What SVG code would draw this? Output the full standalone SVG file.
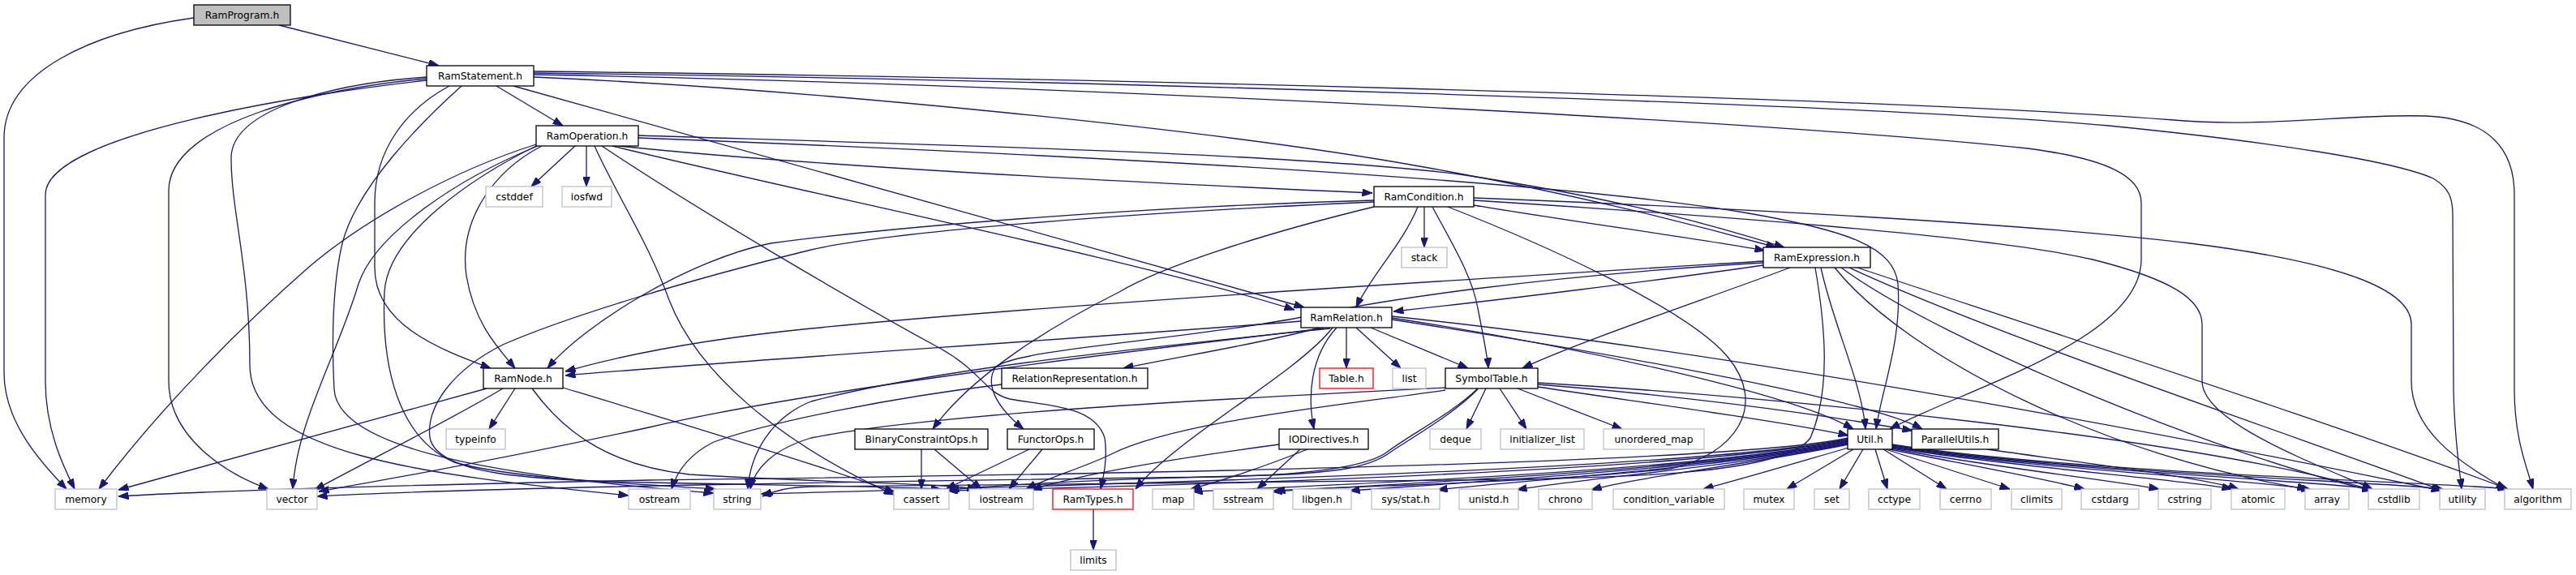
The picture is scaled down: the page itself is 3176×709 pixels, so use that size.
<svg xmlns="http://www.w3.org/2000/svg" width="3176" height="709" viewBox="0 0 3176 709">
<style>
.node rect{fill:#ffffff;stroke:#000000;stroke-width:1.3}
.sys rect{fill:#ffffff;stroke:#bfbfbf;stroke-width:1.3}
.red rect{fill:#ffffff;stroke:#ff0000;stroke-width:1.3}
.root rect{fill:#bfbfbf;stroke:#000000;stroke-width:1.3}
text{font-family:"DejaVu Sans","Liberation Sans",sans-serif;font-size:12.3px;text-anchor:middle;fill:#000000}
#edges path{fill:none;stroke:#191970;stroke-width:1.3;marker-end:url(#arr)}
</style>
<defs>
<marker id="arr" viewBox="0 0 12.5 9" refX="12.5" refY="4.5" markerWidth="12.5" markerHeight="9" markerUnits="userSpaceOnUse" orient="auto">
<path d="M0,0 L12.5,4.5 L0,9 z" fill="#191970" stroke="#191970" stroke-width="1"/>
</marker>
</defs>
<rect x="0" y="0" width="3176" height="709" fill="#ffffff"/>
<g id="edges">
<!-- RamProgram.h -->
<path d="M344,31 L541,81"/>
<path d="M239,22 C110,40 5,90 5,170 L5,460 C5,520 50,570 82,603"/>
<!-- RamStatement.h -->
<path d="M526,99 C380,115 56,165 56,240 L56,470 C56,530 78,575 92,603"/>
<path d="M526,97 C400,108 208,150 208,235 L208,470 C208,540 280,585 331,603"/>
<path d="M526,95 C410,103 285,135 285,195 C285,260 308,330 308,450 C308,560 520,585 775,611"/>
<path d="M554,106 C500,135 462,185 462,250 L462,330 C462,400 540,430 605,454"/>
<path d="M569,106 C520,150 440,230 422,300 C408,360 410,440 412,480 C416,555 620,588 880,608"/>
<path d="M612,106 L694,155"/>
<path d="M633,106 L1608,379"/>
<path d="M658,95 C1000,110 1500,160 1750,205 C1950,240 2100,280 2190,305"/>
<path d="M658,88 C1200,94 2300,118 2680,148 C2790,158 2900,140 2990,143 C3070,146 3100,185 3100,240 L3100,480 C3100,540 3115,575 3123,603"/>
<path d="M658,90 C1300,98 2300,128 2600,155 C2800,175 2950,198 3000,220 C3020,232 3024,245 3024,265 L3025,480 C3026,540 3032,575 3035,603"/>
<path d="M658,92 C1300,104 2200,150 2500,183 C2600,196 2640,218 2640,250 L2640,320 C2640,420 2420,480 2330,529"/>
<!-- RamOperation.h -->
<path d="M661,178 C560,210 450,270 380,330 C300,400 200,500 122,603"/>
<path d="M663,180 C560,222 462,290 442,350 C415,440 366,520 361,603"/>
<path d="M668,180 C610,210 565,270 575,340 C585,400 615,430 635,454"/>
<path d="M661,180 C580,220 478,290 474,360 C470,450 490,540 560,570 C640,592 800,597 882,603"/>
<path d="M709,180 L655,230"/>
<path d="M723,180 L723,230"/>
<path d="M733,180 C760,240 800,300 825,370 C860,460 960,545 1102,610"/>
<path d="M742,180 C870,265 1050,370 1160,430 C1210,458 1215,485 1245,492 C1290,500 1350,500 1362,540 C1366,565 1360,590 1357,603"/>
<path d="M763,180 C1000,205 1400,225 1692,238"/>
<path d="M787,167 C1200,180 1600,190 1800,215 C2000,245 2120,280 2200,305"/>
<path d="M787,170 C1300,190 1900,220 2150,262 C2280,284 2335,305 2340,350 C2345,420 2320,480 2313,529"/>
<path d="M755,180 C1000,240 1400,320 1596,382"/>
<!-- RamCondition.h -->
<path d="M1817,253 C1950,275 2100,295 2176,309"/>
<path d="M1817,244 C2100,255 2500,275 2700,300 C2900,325 2973,360 2973,400 L2973,470 C2973,530 3030,570 3090,603"/>
<path d="M1817,247 C2100,265 2450,290 2580,320 C2680,345 2715,370 2715,400 L2715,470 C2715,520 2850,570 2925,603"/>
<path d="M1748,255 C1730,300 1690,340 1672,379"/>
<path d="M1756,255 L1756,305"/>
<path d="M1766,255 C1790,300 1815,340 1822,380 C1830,420 1834,440 1835,454"/>
<path d="M1694,255 C1550,290 1430,330 1380,360 C1300,400 1200,460 1150,529"/>
<path d="M1694,247 C1400,255 1100,280 950,300 C850,320 720,400 675,454"/>
<path d="M1694,249 C1400,262 1100,285 1000,308 C850,345 700,390 620,425 C560,455 525,500 530,540 C540,585 650,592 800,595 C950,598 1100,600 1160,603"/>
<path d="M1785,255 C1900,300 2080,380 2130,440 C2180,500 2140,560 2060,578 C1900,595 1700,598 1572,605"/>
<!-- RamExpression.h -->
<path d="M2207,330 C2100,370 1950,420 1877,454"/>
<path d="M2174,327 C2050,345 1850,370 1718,384"/>
<path d="M2174,322 C1800,345 1300,375 1000,405 C850,420 760,440 697,458"/>
<path d="M2174,324 C1900,340 1700,370 1600,392 C1450,420 1260,430 1228,452 C1212,475 1232,505 1262,529"/>
<path d="M2245,330 C2260,400 2295,470 2300,529"/>
<path d="M2238,330 C2250,400 2258,480 2232,540 C2200,585 2000,590 1800,592 L1000,600 C970,601 955,605 940,612"/>
<path d="M2290,330 C2500,400 2900,530 3092,603"/>
<path d="M2280,330 C2450,410 2850,545 3012,605"/>
<path d="M2270,330 C2400,425 2750,565 2925,605"/>
<path d="M2262,330 C2350,440 2600,565 2850,604"/>
<!-- RamRelation.h -->
<path d="M1660,404 L1660,454"/>
<path d="M1672,404 L1727,454"/>
<path d="M1690,404 L1810,454"/>
<path d="M1648,404 C1615,440 1612,490 1620,529"/>
<path d="M1643,404 C1600,460 1450,540 1400,603"/>
<path d="M1604,396 C1300,420 900,445 697,463"/>
<path d="M1627,404 C1550,425 1450,440 1385,454"/>
<path d="M1632,405 C1400,432 1000,480 800,527 C600,570 450,596 393,606"/>
<path d="M1640,405 C1400,430 1150,455 1000,495 C950,515 925,560 922,603"/>
<path d="M1716,392 C1900,420 2200,480 2285,529"/>
<path d="M1716,394 C1950,430 2300,490 2370,529"/>
<path d="M1716,390 C2100,430 2600,520 3010,605"/>
<!-- RamNode.h -->
<path d="M600,479 L146,604"/>
<path d="M620,479 C560,515 460,565 388,604"/>
<path d="M635,479 L603,529"/>
<path d="M656,479 C700,540 760,575 850,585 C1000,595 1150,595 1205,603"/>
<path d="M694,478 C800,510 1000,570 1103,607"/>
<!-- BinaryConstraintOps.h -->
<path d="M1136,554 L1136,603"/>
<path d="M1152,554 L1210,603"/>
<!-- FunctorOps.h -->
<path d="M1269,554 L1166,603"/>
<path d="M1285,554 L1244,603"/>
<!-- IODirectives.h -->
<path d="M1603,554 L1550,603"/>
<path d="M1612,554 C1560,575 1500,595 1468,603"/>
<path d="M1577,548 C1450,565 1330,585 1272,604"/>
<!-- RelationRepresentation.h -->
<path d="M1235,474 C1100,490 950,520 880,545 C850,560 835,580 828,603"/>
<!-- SymbolTable.h -->
<path d="M1832,479 L1808,529"/>
<path d="M1849,479 L1882,529"/>
<path d="M1871,479 L2000,529"/>
<path d="M1896,477 C2050,500 2200,520 2279,537"/>
<path d="M1896,474 C2100,490 2250,512 2358,531"/>
<path d="M1896,472 C2200,490 2700,540 2925,604"/>
<path d="M1822,479 C1790,510 1740,535 1712,556 C1685,578 1600,586 1500,588 C1200,592 600,600 391,612"/>
<path d="M1782,478 C1500,492 1150,510 1000,540 C950,555 930,580 925,603"/>
<path d="M1782,481 C1650,500 1450,520 1370,560 C1340,575 1290,590 1265,603"/>
<path d="M1822,480 C1790,512 1745,537 1715,557 C1690,576 1650,583 1560,586 C1400,590 1250,596 1170,604"/>
<!-- Util.h -->
<path d="M2279,548 C2160,572 2020,588 1962,604"/>
<path d="M2279,547 C2150,574 1950,590 1870,604"/>
<path d="M2279,546 C2140,575 1880,592 1772,604"/>
<path d="M2279,545 C2130,576 1820,594 1664,605"/>
<path d="M2279,544 C2120,577 1760,595 1568,606"/>
<path d="M2279,543 C2110,578 1700,596 1470,606"/>
<path d="M2279,542 C2100,579 1500,598 1168,605"/>
<path d="M2279,541 C2100,580 1300,599 938,609"/>
<path d="M2279,540 C2100,580 900,590 800,592 C500,598 250,606 146,612"/>
<path d="M2297,554 L2268,603"/>
<path d="M2312,554 L2327,603"/>
<path d="M2285,554 L2203,603"/>
<path d="M2279,552 C2200,575 2150,590 2100,603"/>
<path d="M2322,554 L2400,603"/>
<path d="M2325,554 L2478,603"/>
<path d="M2330,554 C2420,572 2520,590 2570,603"/>
<path d="M2332,553 C2450,575 2600,592 2662,603"/>
<path d="M2333,552 C2480,576 2700,592 2752,603"/>
<path d="M2333,551 C2500,578 2800,593 2845,603"/>
<path d="M2333,550 C2520,580 2880,594 2925,603"/>
<path d="M2333,549 C2540,582 2960,595 3012,603"/>
<path d="M2333,548 C2560,584 3050,596 3092,603"/>
<!-- ParallelUtils.h -->
<path d="M2450,554 C2600,575 2720,590 2760,603"/>
<!-- RamTypes.h -->
<path d="M1348,628 L1348,678"/>
</g>
<g id="n-RamProgram" class="root"><rect x="239" y="6" width="119" height="25"/><text x="298.5" y="22.5">RamProgram.h</text></g>
<g id="n-RamStatement" class="node"><rect x="526" y="81" width="132" height="25"/><text x="592" y="97.5">RamStatement.h</text></g>
<g id="n-RamOperation" class="node"><rect x="661" y="155" width="126" height="25"/><text x="724" y="171.5">RamOperation.h</text></g>
<g id="n-cstddef" class="sys"><rect x="599" y="230" width="70" height="25"/><text x="634" y="246.5">cstddef</text></g>
<g id="n-iosfwd" class="sys"><rect x="693" y="230" width="61" height="25"/><text x="723.5" y="246.5">iosfwd</text></g>
<g id="n-RamCondition" class="node"><rect x="1694" y="230" width="123" height="25"/><text x="1755.5" y="246.5">RamCondition.h</text></g>
<g id="n-stack" class="sys"><rect x="1728" y="305" width="56" height="25"/><text x="1756" y="321.5">stack</text></g>
<g id="n-RamExpression" class="node"><rect x="2174" y="305" width="132" height="25"/><text x="2240" y="321.5">RamExpression.h</text></g>
<g id="n-RamRelation" class="node"><rect x="1604" y="379" width="112" height="25"/><text x="1660" y="395.5">RamRelation.h</text></g>
<g id="n-RamNode" class="node"><rect x="596" y="454" width="98" height="25"/><text x="645" y="470.5">RamNode.h</text></g>
<g id="n-RelationRepresentation" class="node"><rect x="1235" y="454" width="180" height="25"/><text x="1325" y="470.5">RelationRepresentation.h</text></g>
<g id="n-Table" class="red"><rect x="1627" y="454" width="66" height="25"/><text x="1660" y="470.5">Table.h</text></g>
<g id="n-list" class="sys"><rect x="1717" y="454" width="41" height="25"/><text x="1737.5" y="470.5">list</text></g>
<g id="n-SymbolTable" class="node"><rect x="1782" y="454" width="114" height="25"/><text x="1839" y="470.5">SymbolTable.h</text></g>
<g id="n-typeinfo" class="sys"><rect x="550" y="529" width="73" height="25"/><text x="586.5" y="545.5">typeinfo</text></g>
<g id="n-BinaryConstraintOps" class="node"><rect x="1054" y="529" width="164" height="25"/><text x="1136" y="545.5">BinaryConstraintOps.h</text></g>
<g id="n-FunctorOps" class="node"><rect x="1242" y="529" width="107" height="25"/><text x="1295.5" y="545.5">FunctorOps.h</text></g>
<g id="n-IODirectives" class="node"><rect x="1577" y="529" width="110" height="25"/><text x="1632" y="545.5">IODirectives.h</text></g>
<g id="n-deque" class="sys"><rect x="1763" y="529" width="63" height="25"/><text x="1794.5" y="545.5">deque</text></g>
<g id="n-initializer_list" class="sys"><rect x="1850" y="529" width="103" height="25"/><text x="1901.5" y="545.5">initializer_list</text></g>
<g id="n-unordered_map" class="sys"><rect x="1977" y="529" width="124" height="25"/><text x="2039" y="545.5">unordered_map</text></g>
<g id="n-Util" class="node"><rect x="2278" y="529" width="55" height="25"/><text x="2305.5" y="545.5">Util.h</text></g>
<g id="n-ParallelUtils" class="node"><rect x="2357" y="529" width="107" height="25"/><text x="2410.5" y="545.5">ParallelUtils.h</text></g>
<g id="n-memory" class="sys"><rect x="68" y="603" width="76" height="25"/><text x="106" y="619.5">memory</text></g>
<g id="n-vector" class="sys"><rect x="329" y="603" width="62" height="25"/><text x="360" y="619.5">vector</text></g>
<g id="n-ostream" class="sys"><rect x="775" y="603" width="76" height="25"/><text x="813" y="619.5">ostream</text></g>
<g id="n-string" class="sys"><rect x="880" y="603" width="58" height="25"/><text x="909" y="619.5">string</text></g>
<g id="n-cassert" class="sys"><rect x="1102" y="603" width="68" height="25"/><text x="1136" y="619.5">cassert</text></g>
<g id="n-iostream" class="sys"><rect x="1195" y="603" width="79" height="25"/><text x="1234.5" y="619.5">iostream</text></g>
<g id="n-RamTypes" class="red"><rect x="1298" y="603" width="99" height="25"/><text x="1347.5" y="619.5">RamTypes.h</text></g>
<g id="n-map" class="sys"><rect x="1421" y="603" width="51" height="25"/><text x="1446.5" y="619.5">map</text></g>
<g id="n-sstream" class="sys"><rect x="1496" y="603" width="74" height="25"/><text x="1533" y="619.5">sstream</text></g>
<g id="n-libgen" class="sys"><rect x="1594" y="603" width="72" height="25"/><text x="1630" y="619.5">libgen.h</text></g>
<g id="n-sysstat" class="sys"><rect x="1691" y="603" width="84" height="25"/><text x="1733" y="619.5">sys/stat.h</text></g>
<g id="n-unistd" class="sys"><rect x="1799" y="603" width="73" height="25"/><text x="1835.5" y="619.5">unistd.h</text></g>
<g id="n-chrono" class="sys"><rect x="1897" y="603" width="66" height="25"/><text x="1930" y="619.5">chrono</text></g>
<g id="n-condition_variable" class="sys"><rect x="1989" y="603" width="137" height="25"/><text x="2057.5" y="619.5">condition_variable</text></g>
<g id="n-mutex" class="sys"><rect x="2150" y="603" width="62" height="25"/><text x="2181" y="619.5">mutex</text></g>
<g id="n-set" class="sys"><rect x="2237" y="603" width="43" height="25"/><text x="2258.5" y="619.5">set</text></g>
<g id="n-cctype" class="sys"><rect x="2304" y="603" width="63" height="25"/><text x="2335.5" y="619.5">cctype</text></g>
<g id="n-cerrno" class="sys"><rect x="2392" y="603" width="63" height="25"/><text x="2423.5" y="619.5">cerrno</text></g>
<g id="n-climits" class="sys"><rect x="2480" y="603" width="62" height="25"/><text x="2511" y="619.5">climits</text></g>
<g id="n-cstdarg" class="sys"><rect x="2566" y="603" width="71" height="25"/><text x="2601.5" y="619.5">cstdarg</text></g>
<g id="n-cstring" class="sys"><rect x="2661" y="603" width="65" height="25"/><text x="2693.5" y="619.5">cstring</text></g>
<g id="n-atomic" class="sys"><rect x="2751" y="603" width="66" height="25"/><text x="2784" y="619.5">atomic</text></g>
<g id="n-array" class="sys"><rect x="2842" y="603" width="54" height="25"/><text x="2869" y="619.5">array</text></g>
<g id="n-cstdlib" class="sys"><rect x="2920" y="603" width="63" height="25"/><text x="2951.5" y="619.5">cstdlib</text></g>
<g id="n-utility" class="sys"><rect x="3008" y="603" width="56" height="25"/><text x="3036" y="619.5">utility</text></g>
<g id="n-algorithm" class="sys"><rect x="3088" y="603" width="82" height="25"/><text x="3129" y="619.5">algorithm</text></g>
<g id="n-limits" class="sys"><rect x="1320" y="678" width="56" height="25"/><text x="1348" y="694.5">limits</text></g>
</svg>
